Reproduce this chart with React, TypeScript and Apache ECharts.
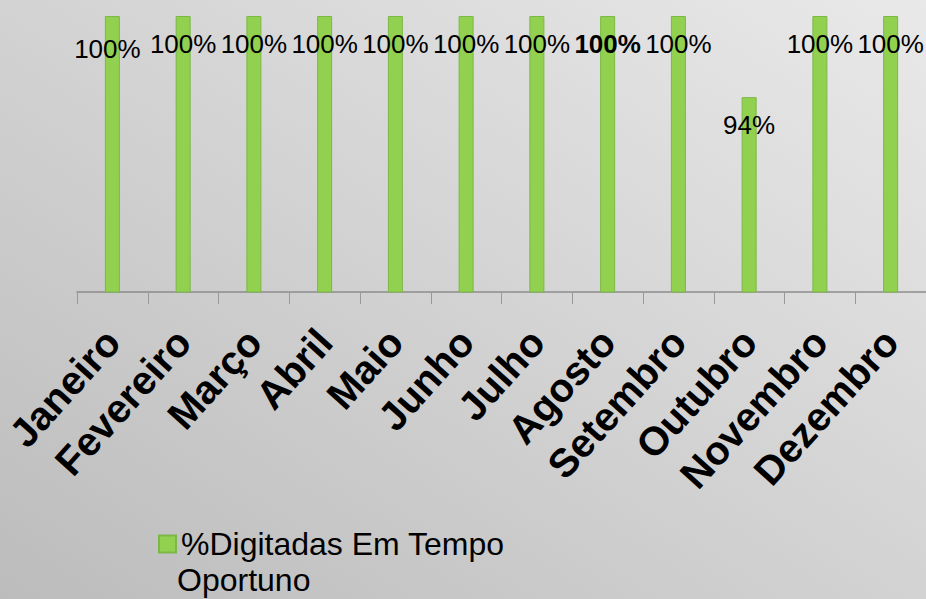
import React, { useEffect, useRef } from "react";
import * as echarts from "echarts";

const categories = ["Janeiro", "Fevereiro", "Março", "Abril", "Maio", "Junho", "Julho", "Agosto", "Setembro", "Outubro", "Novembro", "Dezembro"];
const values = [1, 1, 1, 1, 1, 1, 1, 1, 1, 0.9412, 1, 1];
const seriesName = "%Digitadas Em Tempo Oportuno";
const legendLines = ["%Digitadas Em Tempo", "Oportuno"];

export default function App() {
  const ref = useRef<HTMLDivElement>(null);
  useEffect(() => {
    if (!ref.current) return;
    const chart = echarts.init(ref.current, null, { renderer: "svg" });
    const font = "'Liberation Sans', Arial, sans-serif";
    const data = values.map((v, i) => {
      const d: any = { value: v };
      if (i === 0) d.label = { offset: [-5, 5] };
      if (categories[i] === "Agosto") d.label = { fontWeight: "bold" };
      return d;
    });
    chart.setOption({
      animation: false,
      backgroundColor: {
        type: "linear",
        x: 1, y: 0, x2: 0, y2: 1,
        colorStops: [
          { offset: 0, color: "#e9e9e9" },
          { offset: 1, color: "#bcbcbc" },
        ],
      },
      textStyle: { fontFamily: font },
      grid: { left: 77, right: 0, top: 16, bottom: 307, containLabel: false },
      legend: {
        left: 153,
        top: 523,
        icon: "rect",
        itemWidth: 17,
        itemHeight: 17,
        data: [seriesName],
        formatter: () => legendLines[0],
        textStyle: { fontSize: 32, color: "#000", fontFamily: font, lineHeight: 32 },
      },
      graphic: [
        {
          type: "text",
          left: 177,
          top: 564,
          style: { text: legendLines[1], fontSize: 32, fill: "#000", fontFamily: font },
        },
      ],
      xAxis: {
        type: "category",
        data: categories,
        axisLine: { lineStyle: { color: "#8c8c8c", width: 1.5 } },
        axisTick: { show: true, length: 12, lineStyle: { color: "#999" } },
        axisLabel: {
          interval: 0,
          rotate: 48,
          margin: 43,
          fontSize: 40,
          fontWeight: "bold",
          color: "#000",
          fontFamily: font,
        },
      },
      yAxis: {
        type: "value",
        min: 0.8,
        max: 1,
        show: false,
        splitLine: { show: false },
      },
      series: [
        {
          name: seriesName,
          type: "bar",
          barWidth: 15,
          data,
          itemStyle: { color: "#92d050", borderColor: "#7cb845", borderWidth: 1 },
          label: {
            show: true,
            position: "insideTop",
            distance: 15,
            fontSize: 26,
            color: "#000",
            fontFamily: font,
            formatter: (p: any) => Math.round(p.value * 100) + "%",
          },
        },
      ],
    });
    return () => chart.dispose();
  }, []);
  return <div ref={ref} style={{ position: "fixed", left: 0, top: 0, width: 926, height: 599 }} />;
}
